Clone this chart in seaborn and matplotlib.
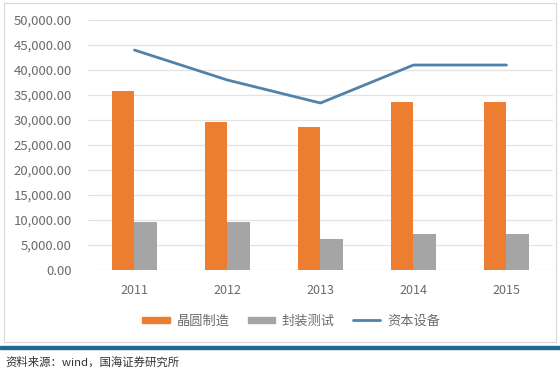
import pandas as pd
import matplotlib.pyplot as plt
import seaborn as sns
from matplotlib.patches import Rectangle, Patch
from matplotlib.lines import Line2D
from matplotlib.ticker import FuncFormatter

sns.set_theme(style='white')
plt.rcParams['font.family'] = ['Noto Sans CJK SC', 'DejaVu Sans']

# data
years = ['2011', '2012', '2013', '2014', '2015']
wafer = [35800, 29600, 28600, 33600, 33600]      # 晶圆制造
packaging = [9600, 9600, 6200, 7200, 7200]       # 封装测试
equipment = [44000, 38000, 33400, 41000, 41000]  # 资本设备
series_names = ['晶圆制造', '封装测试', '资本设备']

orange = '#ED7D31'
gray = '#A5A5A5'
blue = '#5282AA'

df = pd.concat([
    pd.DataFrame({'year': years, 'kind': series_names[0], 'value': wafer}),
    pd.DataFrame({'year': years, 'kind': series_names[1], 'value': packaging}),
], ignore_index=True)

fig = plt.figure(figsize=(5.6, 3.78), dpi=100)
ax = fig.add_axes([0.157, 0.2857, 0.8305, 0.6613])

sns.barplot(data=df, x='year', y='value', hue='kind', order=years,
            hue_order=series_names[:2], palette=[orange, gray],
            width=0.48, gap=0, saturation=1, linewidth=0, errorbar=None,
            legend=False, ax=ax)
sns.pointplot(x=years, y=equipment, order=years, color=blue, marker='',
              linewidth=2, errorbar=None, ax=ax)

ax.set_ylim(0, 50000)
ax.set_xlim(-0.5, 4.5)
ax.set_yticks(range(0, 50001, 5000))
ax.yaxis.set_major_formatter(FuncFormatter(lambda v, p: f'{v:,.2f}'))
ax.yaxis.grid(True, color='#E3E3E3', linewidth=0.9)
ax.set_axisbelow(True)
for s in ax.spines.values():
    s.set_visible(False)
ax.set_xlabel('')
ax.set_ylabel('')
ax.tick_params(axis='y', length=0, pad=11.5, labelsize=9.5, labelcolor='#6B6B6B')
ax.tick_params(axis='x', length=0, pad=10, labelsize=9, labelcolor='#6B6B6B')

handles = [Patch(color=orange), Patch(color=gray), Line2D([], [], color=blue, lw=2)]
fig.legend(handles, series_names, loc='center', bbox_to_anchor=(0.52, 0.151),
           ncol=3, frameon=False, fontsize=9.5, labelcolor='#6B6B6B',
           handlelength=2.1, handleheight=0.35, handletextpad=0.5,
           columnspacing=1.35)

# outer frame, rule and source line
fig.patches.append(Rectangle((4 / 560, 1 - 342 / 378), 552 / 560, 339 / 378,
                             transform=fig.transFigure, fill=False,
                             edgecolor='#D6D6D6', linewidth=0.8))
fig.patches.append(Rectangle((0, 1 - 349 / 378), 1, 3 / 378,
                             transform=fig.transFigure, color='#1F6A8E'))
fig.text(5 / 560, 1 - 362 / 378, '资料来源：wind，国海证券研究所', fontsize=8.2,
         color='#333333', ha='left', va='center')

fig.savefig('out.png', dpi=100)
